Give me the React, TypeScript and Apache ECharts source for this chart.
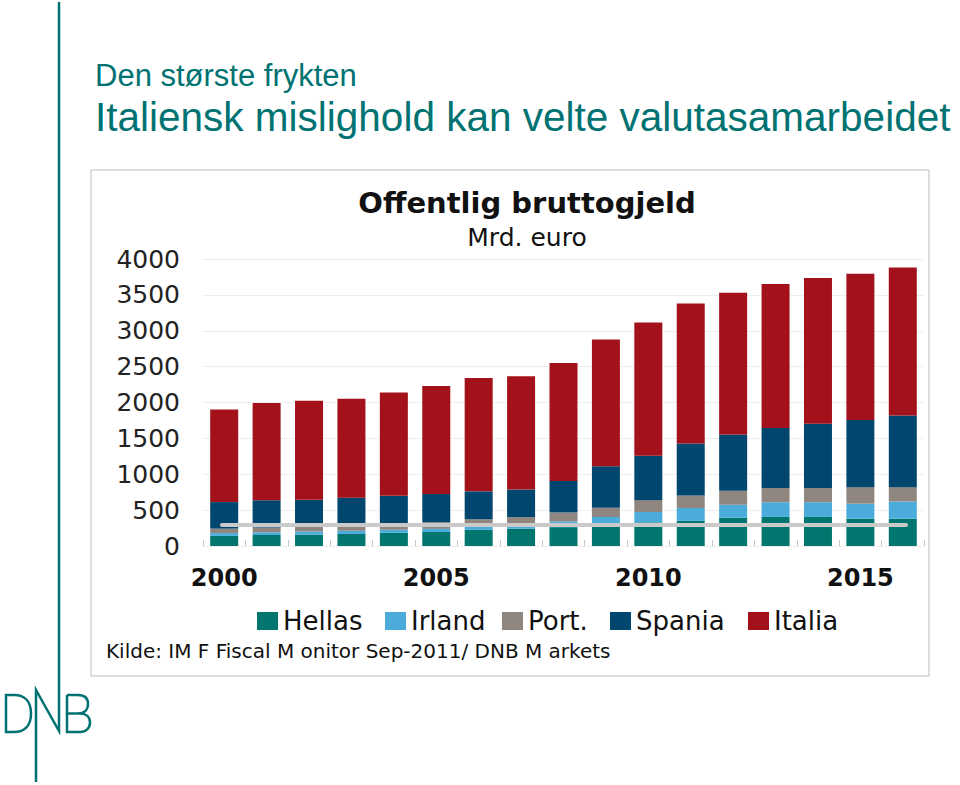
import React, { useEffect, useRef } from "react";
import * as echarts from "echarts";

const years = ["2000","2001","2002","2003","2004","2005","2006","2007","2008","2009","2010","2011","2012","2013","2014","2015","2016"];
const hellas = [141,152,159,168,183,195,225,240,263,299,329,350,395,405,405,380,380];
const irland = [39,41,43,44,44,44,45,47,80,105,145,180,180,205,205,210,240];
const port = [62,66,72,77,82,92,102,115,123,128,165,175,195,200,200,230,200];
const spania = [370,380,370,385,390,395,390,385,440,580,620,725,785,835,895,935,1000];
const italia = [1290,1355,1380,1380,1440,1505,1580,1580,1645,1765,1855,1950,1975,2005,2030,2040,2060];

const seriesNames = ["Hellas","Irland","Port.","Spania","Italia"];
const seriesData = [hellas, irland, port, spania, italia];
const seriesColors = ["#00766E","#4BACDC","#8F8680","#00466E","#A3111A"];
const legendLefts = [257, 385, 502, 610, 748];

const slideTitle = "Den største frykten";
const slideHeadline = "Italiensk mislighold kan velte valutasamarbeidet";
const chartTitle = "Offentlig bruttogjeld";
const chartSubtitle = "Mrd. euro";
const sourceText = "Kilde: IM F Fiscal M onitor Sep-2011/ DNB M arkets";

const TEAL = "#007272";
const CHART_FONT = "DejaVu Sans";
const SLIDE_FONT = "Liberation Sans";

const dPath = "M6,695 L6,732 L14,732 C25,732 31,725 31,713.5 C31,702 25,695 14,695 Z";
const bPath = "M67,695 L67,732 L80,732 C86,732 90,728 90,722.5 C90,717 86,713.5 80,713.5 L67,713.5 M67,695 L78,695 C84,695 88,698 88,704 C88,710 84,713.5 78,713.5";

let registered = false;
function registerShapes() {
  if (registered) return;
  echarts.graphic.registerShape("dnbD", echarts.graphic.extendPath(dPath, {}));
  echarts.graphic.registerShape("dnbB", echarts.graphic.extendPath(bPath, {}));
  registered = true;
}

export default function App() {
  const ref = useRef<HTMLDivElement>(null);
  useEffect(() => {
    if (!ref.current) return;
    registerShapes();
    const chart = echarts.init(ref.current, null, { renderer: "svg" });
    const option: any = {
      animation: false,
      backgroundColor: "#ffffff",
      grid: { left: 203, right: 36, top: 259, bottom: 239, containLabel: false },
      xAxis: {
        type: "category",
        data: years,
        axisLine: { show: false },
        axisTick: { show: true, inside: true, length: 6, interval: 0, lineStyle: { color: "#c8c8c8" } },
        axisLabel: { interval: 4, margin: 20, color: "#111", fontFamily: CHART_FONT, fontWeight: "bold", fontSize: 24 },
        splitLine: { show: false },
      },
      yAxis: {
        type: "value",
        min: 0,
        max: 4000,
        interval: 500,
        axisLine: { show: false },
        axisTick: { show: false },
        axisLabel: { margin: 23, color: "#222", fontFamily: CHART_FONT, fontSize: 25, formatter: (v: number) => String(v) },
        splitLine: { show: true, lineStyle: { color: "#eeeeee", width: 1 } },
      },
      legend: seriesNames.map((n, i) => ({
        data: [n],
        left: legendLefts[i],
        top: 608,
        icon: "rect",
        itemWidth: 21,
        itemHeight: 18,
        padding: 0,
        textStyle: { fontFamily: CHART_FONT, fontSize: 26, color: "#111" },
      })),
      series: seriesNames.map((n, i) => ({
        name: n,
        type: "bar",
        stack: "debt",
        data: seriesData[i],
        barWidth: 28,
        itemStyle: { color: seriesColors[i] },
      })),
      graphic: [
        { type: "rect", z: -1, shape: { x: 91, y: 170, width: 838, height: 506 }, style: { fill: "none", stroke: "#bdbdbd", lineWidth: 1 } },
        { type: "text", x: 95, y: 75, style: { text: slideTitle, fill: TEAL, fontFamily: SLIDE_FONT, fontSize: 31, textAlign: "left", textVerticalAlign: "middle" } },
        { type: "text", x: 95, y: 117, style: { text: slideHeadline, fill: TEAL, fontFamily: SLIDE_FONT, fontSize: 40.5, textAlign: "left", textVerticalAlign: "middle" } },
        { type: "text", x: 527, y: 203, style: { text: chartTitle, fill: "#111", fontFamily: CHART_FONT, fontSize: 29, fontWeight: "bold", textAlign: "center", textVerticalAlign: "middle" } },
        { type: "text", x: 527, y: 237, style: { text: chartSubtitle, fill: "#111", fontFamily: CHART_FONT, fontSize: 25, textAlign: "center", textVerticalAlign: "middle" } },
        { type: "text", x: 106, y: 651, style: { text: sourceText, fill: "#111", fontFamily: CHART_FONT, fontSize: 20, textAlign: "left", textVerticalAlign: "middle" } },
        { type: "line", z: 100, shape: { x1: 222, y1: 525, x2: 906, y2: 525 }, style: { stroke: "#cacaca", lineWidth: 4, lineCap: "round" } },
        { type: "polyline", shape: { points: [[36, 782], [36, 690], [59, 731], [59, 2]] }, style: { stroke: TEAL, fill: null, lineWidth: 2.5 } },
        { type: "dnbD", x: 0, y: 0, style: { stroke: TEAL, fill: null, lineWidth: 2.5 } },
        { type: "dnbB", x: 0, y: 0, style: { stroke: TEAL, fill: null, lineWidth: 2.5 } },
      ],
    };
    chart.setOption(option);
    return () => chart.dispose();
  }, []);
  return <div ref={ref} style={{ position: "absolute", left: 0, top: 0, width: 960, height: 785 }} />;
}
